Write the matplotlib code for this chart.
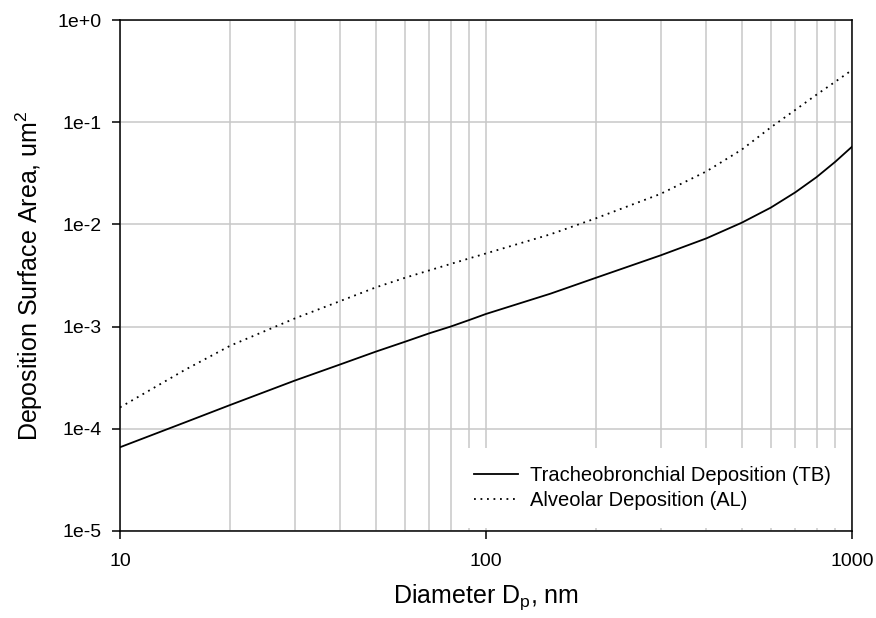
import numpy as np
import matplotlib
matplotlib.use("Agg")
import matplotlib.pyplot as plt
from matplotlib.ticker import FixedLocator, FixedFormatter, NullFormatter

plt.rcParams['font.family'] = ['Liberation Sans', 'DejaVu Sans']
plt.rcParams['mathtext.default'] = 'regular'

# particle diameter, nm
diameter = [10, 15, 20, 30, 40, 50, 60, 70, 80, 90, 100, 150, 200, 300,
            400, 500, 600, 700, 800, 900, 1000]

# deposited surface area, um^2
tb_area = [6.6e-5, 1.15e-4, 1.71e-4, 2.96e-4, 4.27e-4, 5.69e-4, 7.1e-4, 8.6e-4,
           1.0e-3, 1.16e-3, 1.33e-3, 2.1e-3, 3.01e-3, 4.98e-3, 7.3e-3, 1.04e-2,
           1.46e-2, 2.06e-2, 2.9e-2, 4.1e-2, 5.76e-2]
al_area = [1.62e-4, 3.75e-4, 6.5e-4, 1.2e-3, 1.78e-3, 2.42e-3, 3.0e-3, 3.55e-3,
           4.1e-3, 4.65e-3, 5.2e-3, 8.0e-3, 1.15e-2, 1.99e-2, 3.3e-2, 5.4e-2,
           8.9e-2, 1.32e-1, 1.86e-1, 2.49e-1, 3.24e-1]

x_ticks = [10, 100, 1000]
x_tick_labels = ['10', '100', '1000']
y_ticks = [1e-5, 1e-4, 1e-3, 1e-2, 1e-1, 1e0]
y_tick_labels = ['1e-5', '1e-4', '1e-3', '1e-2', '1e-1', '1e+0']
x_minor = [20, 30, 40, 50, 60, 70, 80, 90, 200, 300, 400, 500, 600, 700, 800, 900]

fig = plt.figure(figsize=(8.76, 6.18), dpi=100)
ax = fig.add_axes([0.137, 0.1408, 0.8356, 0.8268])

ax.plot(diameter, tb_area, color='black', linewidth=1.3,
        label='Tracheobronchial Deposition (TB)')
ax.plot(diameter, al_area, color='black', linewidth=1.3, linestyle=(0, (1, 2.6)),
        label='Alveolar Deposition (AL)')

ax.set_xscale('log')
ax.set_yscale('log')
ax.set_xlim(10, 1000)
ax.set_ylim(1e-5, 1)

ax.xaxis.set_major_locator(FixedLocator(x_ticks))
ax.xaxis.set_major_formatter(FixedFormatter(x_tick_labels))
ax.xaxis.set_minor_locator(FixedLocator(x_minor))
ax.xaxis.set_minor_formatter(NullFormatter())
ax.yaxis.set_major_locator(FixedLocator(y_ticks))
ax.yaxis.set_major_formatter(FixedFormatter(y_tick_labels))
ax.yaxis.set_minor_locator(FixedLocator([]))

ax.grid(True, which='major', color='#c8c8c8', linewidth=1.1)
ax.grid(True, which='minor', axis='x', color='#c8c8c8', linewidth=1.1)
ax.set_axisbelow(True)

ax.tick_params(which='major', direction='out', length=6, width=1.1,
               labelsize=14, color='black')
ax.tick_params(axis='x', which='major', pad=10)
ax.tick_params(axis='y', which='major', pad=7.5)
ax.tick_params(which='minor', length=0)
for s in ax.spines.values():
    s.set_linewidth(1.1)
    s.set_color('black')

ax.set_xlabel('Diameter D$_{p}$, nm', fontsize=18, labelpad=9)
ax.set_ylabel('Deposition Surface Area, um$^{2}$', fontsize=18, labelpad=9)

leg = ax.legend(loc='lower right', fontsize=14.5, frameon=True, fancybox=False,
                edgecolor='none', facecolor='white', framealpha=1,
                handlelength=2.2, handletextpad=0.6, labelspacing=0.3,
                borderpad=0.9, borderaxespad=0.15)

fig.savefig('out.png', dpi=100)
